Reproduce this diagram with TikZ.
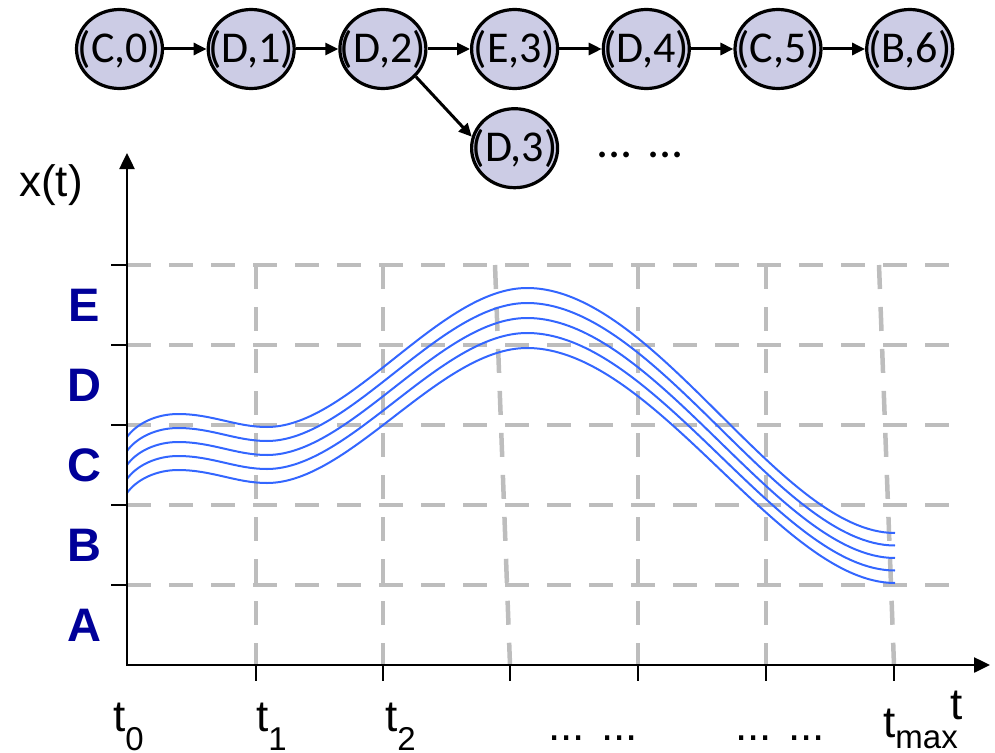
\documentclass[tikz,border=0pt]{standalone}
\usepackage{fontspec}
\setmainfont{Liberation Sans}
\newfontfamily\calib{Carlito}
\usepackage{tikz}
\usetikzlibrary{arrows.meta,positioning,shapes.geometric}
\definecolor{sfill}{HTML}{CCCCE5}
\definecolor{snavy}{HTML}{000099}
\definecolor{sgrid}{HTML}{BDBDBD}
\definecolor{sblue}{HTML}{3366FF}
\newcommand{\tix}[2]{t\raisebox{-#2}{\fontsize{33}{40}\selectfont #1}}

\begin{document}
\begin{tikzpicture}[x=1pt,y=-1pt,
  st/.style={ellipse,draw,line width=3.2pt,fill=sfill,inner xsep=-13pt,inner ysep=0pt,
             minimum width=86pt,minimum height=79pt,font=\calib\fontsize{44}{50}\selectfont},
  arr/.style={-{Triangle[length=13pt,width=12pt]},line width=3pt},
  ax/.style={line width=2.5pt,{Triangle[length=16pt,width=15pt]}-{Triangle[length=16pt,width=15pt]}},
  tk/.style={line width=2pt},
  gl/.style={draw=sgrid,line width=4.5pt,dash pattern=on 24pt off 18pt},
  trj/.style={draw=sblue,line width=2pt},
  lev/.style={font=\bfseries\fontsize{47}{50}\selectfont,text=snavy,inner sep=0pt},
  lab/.style={font=\fontsize{44}{48}\selectfont,inner sep=0pt}]
  \useasboundingbox (0,0) rectangle (995,752);

  % state sequence
  \node[st] (c0) at (119.5,49) {(C,0)};
  \node[st,right=42.5pt of c0] (d1) {(D,1)};
  \node[st,right=42.5pt of d1] (d2) {(D,2)};
  \node[st,right=42.5pt of d2] (e3) {(E,3)};
  \node[st,right=42.5pt of e3] (d4) {(D,4)};
  \node[st,right=42.5pt of d4] (c5) {(C,5)};
  \node[st,right=42.5pt of c5] (b6) {(B,6)};
  \node[st,below=17pt of e3] (d3) {(D,3)};
  \node[lab,font=\calib\fontsize{48}{52}\selectfont,anchor=base] (more) at (640,157) {... ...};

  \draw[arr] (c0)--(d1); \draw[arr] (d1)--(d2); \draw[arr] (d2)--(e3);
  \draw[arr] (e3)--(d4); \draw[arr] (d4)--(c5); \draw[arr] (c5)--(b6);
  \draw[arr] (d2.-40)--(d3.165);

  % grid
  \foreach \y in {265,345,...,585}
    \draw[gl] (127,\y) -- (949,\y);
  \foreach \xa/\xb in {256/256,383/383,495/510,638/638,766/766,879/894}
    \draw[gl] (\xa,265) -- (\xb,665);

  % trajectories
  \foreach \i in {0,...,4}
    \draw[trj] (127,437+14*\i) .. controls (137,423+14*\i) and (157,414+14*\i) .. (178,414+14*\i)
      .. controls (212,414+14*\i) and (236,427+14*\i) .. (267,427+14*\i)
      .. controls (350,427+14*\i) and (440,288+15*\i) .. (527,288+15*\i)
      .. controls (655,288+15*\i) and (780,533+12.5*\i) .. (895,533+12.5*\i);

  % axes
  \coordinate (o) at (127,665);
  \coordinate (ytop) at (127,153);
  \coordinate (xend) at (990,665);
  \draw[ax] (ytop) |- (xend);
  \foreach \y in {265,345,...,585}
    \draw[tk] (111,\y) -- (127,\y);
  \foreach \x in {256,383,510,638,766,894}
    \draw[tk] (\x,665) -- (\x,681);

  \node[lab] (xt) at (51,185) {x(t)};
  \node[lab,anchor=base] (tt) at (957,719) {t};
  \foreach \l [count=\k] in {E,D,C,B,A}
    \node[lev] (lv\l) at (84,225+80*\k) {\l};

  \node[lab,anchor=base west] (t0) at (113,731) {\tix{0}{.45em}};
  \node[lab,anchor=base west] (t1) at (256,731) {\tix{1}{.45em}};
  \node[lab,anchor=base west] (t2) at (385,731) {\tix{2}{.45em}};
  \node[lab,anchor=base] (dt1) at (593,740) {... ...};
  \node[lab,anchor=base] (dt2) at (780,740) {... ...};
  \node[lab,anchor=base west] (tm) at (883,737) {\tix{max}{.27em}};
\end{tikzpicture}
\end{document}
